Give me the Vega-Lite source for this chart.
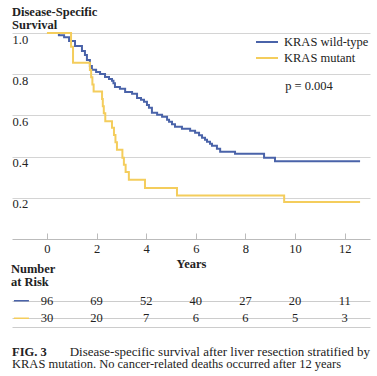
{
  "$schema": "https://vega.github.io/schema/vega-lite/v6.json",
  "padding": {"left": 10, "right": 9, "top": 5, "bottom": 0},
  "background": "white",
  "spacing": -8,
  "config": {
    "font": "Liberation Serif",
    "view": {"stroke": null},
    "title": {"font": "Liberation Serif", "fontWeight": "bold", "fontSize": 12.5, "anchor": "start", "color": "#222", "lineHeight": 13},
    "axis": {"labelFont": "Liberation Serif", "titleFont": "Liberation Serif", "labelColor": "#222", "titleColor": "#222"}
  },
  "datasets": {
    "km": [
      {"group": "KRAS wild-type", "year": 0, "surv": 1.0},
      {"group": "KRAS wild-type", "year": 0.48, "surv": 0.989},
      {"group": "KRAS wild-type", "year": 0.69, "surv": 0.979},
      {"group": "KRAS wild-type", "year": 0.89, "surv": 0.961},
      {"group": "KRAS wild-type", "year": 1.13, "surv": 0.937},
      {"group": "KRAS wild-type", "year": 1.41, "surv": 0.913},
      {"group": "KRAS wild-type", "year": 1.53, "surv": 0.893},
      {"group": "KRAS wild-type", "year": 1.61, "surv": 0.869},
      {"group": "KRAS wild-type", "year": 1.73, "surv": 0.84},
      {"group": "KRAS wild-type", "year": 1.81, "surv": 0.821},
      {"group": "KRAS wild-type", "year": 1.98, "surv": 0.811},
      {"group": "KRAS wild-type", "year": 2.14, "surv": 0.801},
      {"group": "KRAS wild-type", "year": 2.34, "surv": 0.787},
      {"group": "KRAS wild-type", "year": 2.5, "surv": 0.777},
      {"group": "KRAS wild-type", "year": 2.62, "surv": 0.768},
      {"group": "KRAS wild-type", "year": 2.68, "surv": 0.756},
      {"group": "KRAS wild-type", "year": 2.74, "surv": 0.738},
      {"group": "KRAS wild-type", "year": 2.94, "surv": 0.729},
      {"group": "KRAS wild-type", "year": 3.15, "surv": 0.714},
      {"group": "KRAS wild-type", "year": 3.43, "surv": 0.705},
      {"group": "KRAS wild-type", "year": 3.63, "surv": 0.685},
      {"group": "KRAS wild-type", "year": 3.79, "surv": 0.676},
      {"group": "KRAS wild-type", "year": 3.91, "surv": 0.666},
      {"group": "KRAS wild-type", "year": 4.03, "surv": 0.651},
      {"group": "KRAS wild-type", "year": 4.11, "surv": 0.637},
      {"group": "KRAS wild-type", "year": 4.23, "surv": 0.613},
      {"group": "KRAS wild-type", "year": 4.44, "surv": 0.603},
      {"group": "KRAS wild-type", "year": 4.64, "surv": 0.593},
      {"group": "KRAS wild-type", "year": 4.84, "surv": 0.579},
      {"group": "KRAS wild-type", "year": 4.92, "surv": 0.569},
      {"group": "KRAS wild-type", "year": 5.04, "surv": 0.557},
      {"group": "KRAS wild-type", "year": 5.16, "surv": 0.545},
      {"group": "KRAS wild-type", "year": 5.44, "surv": 0.535},
      {"group": "KRAS wild-type", "year": 5.77, "surv": 0.525},
      {"group": "KRAS wild-type", "year": 5.97, "surv": 0.516},
      {"group": "KRAS wild-type", "year": 6.13, "surv": 0.504},
      {"group": "KRAS wild-type", "year": 6.25, "surv": 0.492},
      {"group": "KRAS wild-type", "year": 6.37, "surv": 0.482},
      {"group": "KRAS wild-type", "year": 6.45, "surv": 0.472},
      {"group": "KRAS wild-type", "year": 6.57, "surv": 0.462},
      {"group": "KRAS wild-type", "year": 6.65, "surv": 0.453},
      {"group": "KRAS wild-type", "year": 6.85, "surv": 0.438},
      {"group": "KRAS wild-type", "year": 6.98, "surv": 0.424},
      {"group": "KRAS wild-type", "year": 7.58, "surv": 0.414},
      {"group": "KRAS wild-type", "year": 8.75, "surv": 0.395},
      {"group": "KRAS wild-type", "year": 9.19, "surv": 0.378},
      {"group": "KRAS wild-type", "year": 12.62, "surv": 0.378},
      {"group": "KRAS mutant", "year": 0, "surv": 1.0},
      {"group": "KRAS mutant", "year": 0.97, "surv": 0.933},
      {"group": "KRAS mutant", "year": 1.05, "surv": 0.855},
      {"group": "KRAS mutant", "year": 1.73, "surv": 0.82},
      {"group": "KRAS mutant", "year": 1.78, "surv": 0.785},
      {"group": "KRAS mutant", "year": 1.83, "surv": 0.75},
      {"group": "KRAS mutant", "year": 1.88, "surv": 0.716},
      {"group": "KRAS mutant", "year": 2.22, "surv": 0.68},
      {"group": "KRAS mutant", "year": 2.25, "surv": 0.645},
      {"group": "KRAS mutant", "year": 2.29, "surv": 0.61},
      {"group": "KRAS mutant", "year": 2.35, "surv": 0.572},
      {"group": "KRAS mutant", "year": 2.62, "surv": 0.54},
      {"group": "KRAS mutant", "year": 2.7, "surv": 0.505},
      {"group": "KRAS mutant", "year": 2.76, "surv": 0.47},
      {"group": "KRAS mutant", "year": 2.82, "surv": 0.433},
      {"group": "KRAS mutant", "year": 3.04, "surv": 0.395},
      {"group": "KRAS mutant", "year": 3.1, "surv": 0.36},
      {"group": "KRAS mutant", "year": 3.17, "surv": 0.325},
      {"group": "KRAS mutant", "year": 3.3, "surv": 0.288},
      {"group": "KRAS mutant", "year": 3.95, "surv": 0.247},
      {"group": "KRAS mutant", "year": 5.24, "surv": 0.211},
      {"group": "KRAS mutant", "year": 9.56, "surv": 0.18},
      {"group": "KRAS mutant", "year": 12.62, "surv": 0.18}
    ],
    "risk": [
      {"group": "KRAS wild-type", "year": 0, "n": 96},
      {"group": "KRAS wild-type", "year": 2, "n": 69},
      {"group": "KRAS wild-type", "year": 4, "n": 52},
      {"group": "KRAS wild-type", "year": 6, "n": 40},
      {"group": "KRAS wild-type", "year": 8, "n": 27},
      {"group": "KRAS wild-type", "year": 10, "n": 20},
      {"group": "KRAS wild-type", "year": 12, "n": 11},
      {"group": "KRAS mutant", "year": 0, "n": 30},
      {"group": "KRAS mutant", "year": 2, "n": 20},
      {"group": "KRAS mutant", "year": 4, "n": 7},
      {"group": "KRAS mutant", "year": 6, "n": 6},
      {"group": "KRAS mutant", "year": 8, "n": 6},
      {"group": "KRAS mutant", "year": 10, "n": 5},
      {"group": "KRAS mutant", "year": 12, "n": 3}
    ]
  },
  "resolve": {"scale": {"color": "independent", "x": "independent", "y": "independent"}, "legend": {"color": "independent"}},
  "vconcat": [
    {
      "width": 358,
      "height": 206,
      "title": {"text": ["Disease-Specific", "Survival"], "offset": -2},
      "layer": [
        {
          "data": {"name": "km"},
          "mark": {"type": "line", "interpolate": "step-after", "strokeWidth": 2},
          "encoding": {
            "x": {"field": "year", "type": "quantitative",
                  "scale": {"domain": [-1.41, 13.02], "nice": false, "zero": false},
                  "axis": {"values": [0, 2, 4, 6, 8, 10, 12], "title": "Years", "titleFontWeight": "bold", "titleFontSize": 12.5, "titlePadding": 3,
                           "labelFontSize": 12.5, "tickSize": -6, "tickColor": "#bbb", "domainColor": "#bbb", "labelPadding": 9, "grid": false, "labelFlush": false}},
            "y": {"field": "surv", "type": "quantitative",
                  "scale": {"domain": [0, 1], "nice": false},
                  "axis": {"values": [0.2, 0.4, 0.6, 0.8, 1.0], "format": ".1f", "grid": true, "gridColor": "#d4d4d4", "domain": false, "ticks": false, "tickSize": 0,
                           "labelAlign": "left", "labelBaseline": "top", "labelPadding": 0, "labelDy": 8, "labelFontSize": 12.5, "title": null, "labelFlush": false}},
            "color": {"field": "group", "type": "nominal",
                      "scale": {"domain": ["KRAS wild-type", "KRAS mutant"], "range": ["#4a63a9", "#f4cd5c"]},
                      "legend": {"orient": "top-right", "title": null, "symbolType": "stroke", "symbolStrokeWidth": 2, "symbolSize": 484, "clipHeight": 16,
                                 "labelFontSize": 12.5, "labelFont": "Liberation Serif", "labelColor": "#222", "offset": 1, "padding": 0, "rowPadding": 0, "labelOffset": 5}}
          }
        },
        {
          "data": {"values": [{}]},
          "mark": {"type": "text", "align": "left", "baseline": "middle", "fontSize": 12.5, "font": "Liberation Serif", "color": "#222"},
          "encoding": {"x": {"datum": 9.6}, "y": {"datum": 0.745}, "text": {"value": "p = 0.004"}}
        }
      ]
    },
    {
      "width": 358,
      "height": 35,
      "title": {"text": ["Number", "at Risk"], "offset": 4},
      "data": {"name": "risk"},
      "layer": [
        {
          "mark": {"type": "text", "fontSize": 12.5, "baseline": "middle", "align": "center", "color": "#222"},
          "encoding": {
            "x": {"field": "year", "type": "quantitative", "scale": {"domain": [-1.41, 13.02], "nice": false, "zero": false},
                  "axis": {"orient": "bottom", "labels": false, "ticks": false, "title": null, "grid": false, "domain": true, "domainColor": "#ccc"}},
            "y": {"field": "group", "type": "nominal", "scale": {"domain": ["KRAS wild-type", "KRAS mutant"], "paddingInner": 0, "paddingOuter": 0},
                  "axis": {"grid": true, "bandPosition": 0, "labels": false, "ticks": false, "domain": false, "title": null, "gridColor": "#ccc"}},
            "text": {"field": "n", "type": "quantitative"}
          }
        },
        {
          "transform": [{"filter": "datum.year == 0"}],
          "mark": {"type": "point", "shape": "M-1,0L1,0", "size": 225, "strokeWidth": 1.5, "filled": false, "opacity": 1},
          "encoding": {
            "x": {"datum": -1.03},
            "y": {"field": "group", "type": "nominal"},
            "color": {"field": "group", "type": "nominal", "scale": {"domain": ["KRAS wild-type", "KRAS mutant"], "range": ["#4a63a9", "#f4cd5c"]}, "legend": null}
          }
        }
      ]
    },
    {
      "width": 358,
      "height": 37,
      "data": {"values": [{}]},
      "layer": [
        {
          "mark": {"type": "text", "align": "left", "baseline": "middle", "fontSize": 12.5, "fontWeight": "bold", "color": "#222"},
          "encoding": {"x": {"datum": 0, "scale": {"domain": [0, 1]}, "axis": null}, "y": {"datum": 0, "scale": {"domain": [-1.846, 1], "reverse": true}, "axis": null}, "text": {"value": "FIG. 3"}}
        },
        {
          "mark": {"type": "text", "align": "right", "baseline": "middle", "fontSize": 13, "color": "#222"},
          "encoding": {"x": {"datum": 1}, "y": {"datum": 0}, "text": {"value": "Disease-specific survival after liver resection stratified by"}}
        },
        {
          "mark": {"type": "text", "align": "left", "baseline": "middle", "fontSize": 12.5, "color": "#222"},
          "encoding": {"x": {"datum": 0}, "y": {"datum": 1}, "text": {"value": "KRAS mutation. No cancer-related deaths occurred after 12 years"}}
        }
      ]
    }
  ]
}
